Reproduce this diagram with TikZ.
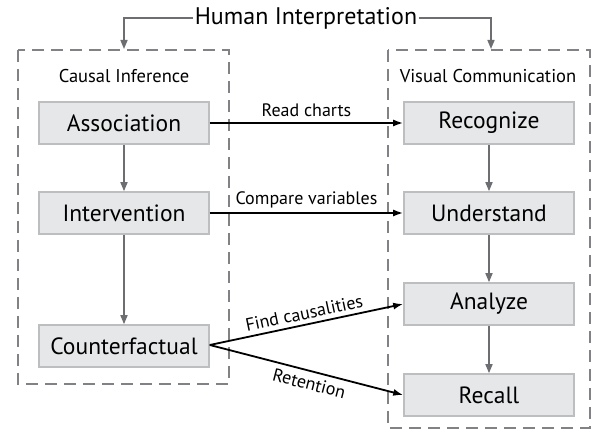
\documentclass[tikz,border=0pt]{standalone}
\usepackage{fontspec}
\setmainfont{PT Sans}
\usetikzlibrary{arrows.meta}
\definecolor{boxfill}{HTML}{E6E7E8}
\definecolor{boxline}{HTML}{BCBEC0}
\definecolor{grayln}{HTML}{6D6E71}
\definecolor{dashln}{HTML}{808285}
\tikzset{
  stage/.style={draw=boxline, line width=1.6pt, fill=boxfill, minimum width=170pt, minimum height=42pt, inner sep=0pt, font=\fontsize{23.5}{25}\selectfont},
  group/.style={draw=dashln, line width=1.6pt, dash pattern=on 12pt off 7pt},
  grayarrow/.style={draw=grayln, line width=1.6pt, -{Triangle[length=9pt,width=7pt]}},
  blackarrow/.style={draw=black, line width=1.8pt, -{Latex[length=10pt,width=7pt]}},
  lbl/.style={font=\fontsize{18}{20}\selectfont, inner sep=1pt},
  ttl/.style={font=\fontsize{18.5}{20}\selectfont}
}
\begin{document}
\begin{tikzpicture}[x=1pt,y=-1pt]
\useasboundingbox (0,0) rectangle (595,435);
% dashed groups
\draw[group] (18,50) rectangle (229,384);
\draw[group] (388,50) rectangle (590,428);
% title
\node[font=\fontsize{24}{26}\selectfont, inner sep=2pt] (hi) at (306,18) {Human Interpretation};
\coordinate (lt) at (124,49);
\coordinate (rt) at (491,49);
\draw[grayarrow] (hi.west) -| (lt);
\draw[grayarrow] (hi.east) -| (rt);
% group titles
\node[ttl] (ci) at (124,76) {Causal Inference};
\node[ttl] (vc) at (488,76) {Visual Communication};
% left stages
\node[stage] (as) at (124,123) {Association};
\node[stage] (iv) at (124,213) {Intervention};
\node[stage] (cf) at (124,346) {Counterfactual};
% right stages
\node[stage] (rc) at (489,123) {Recognize};
\node[stage] (un) at (489,213) {Understand};
\node[stage] (an) at (489,304) {Analyze};
\node[stage] (re) at (489,395) {Recall};
% gray vertical arrows
\draw[grayarrow] (as) -- (iv);
\draw[grayarrow] (iv) -- (cf);
\draw[grayarrow] (rc) -- (un);
\draw[grayarrow] (un) -- (an);
\draw[grayarrow] (an) -- (re);
% black arrows
\draw[blackarrow] (as.east) -- node[lbl, above=4pt] {Read charts} (rc.west);
\draw[blackarrow] (iv.east) -- node[lbl, above=3pt] {Compare variables} (un.west);
\draw[blackarrow] ([yshift=1pt]cf.east) -- node[lbl, above=3pt, sloped, pos=0.5] {Find causalities} (an.west);
\draw[blackarrow] ([yshift=1pt]cf.east) -- node[lbl, below=4pt, sloped, pos=0.53] {Retention} (re.west);
\end{tikzpicture}
\end{document}
